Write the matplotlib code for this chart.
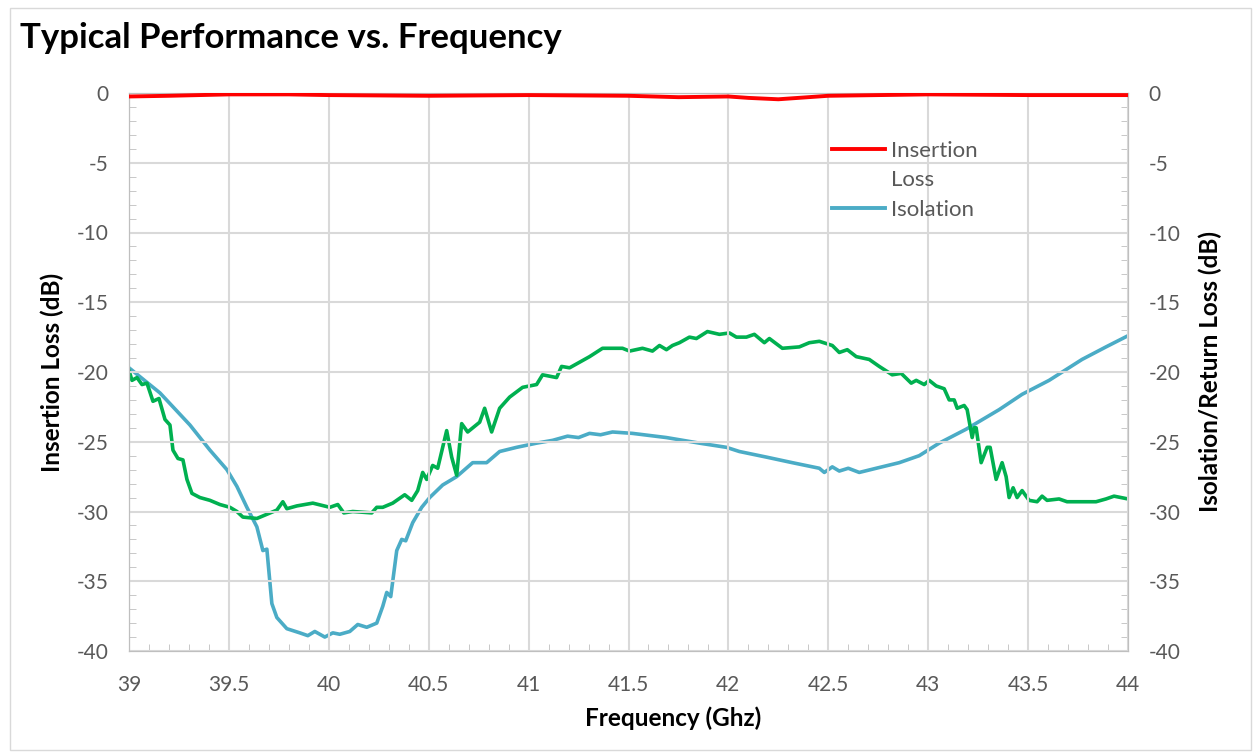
import matplotlib.pyplot as plt
from matplotlib.lines import Line2D
from matplotlib.patches import Rectangle
from matplotlib.ticker import MultipleLocator

# Insertion loss (left axis)
il_freq = [39.0, 39.2, 39.5, 39.8, 40.0, 40.5, 41.0, 41.5, 41.75, 42.0, 42.1, 42.25, 42.35, 42.5, 43.0, 43.5, 44.0]
il_db = [-0.25, -0.2, -0.1, -0.1, -0.15, -0.2, -0.15, -0.2, -0.3, -0.25, -0.35, -0.45, -0.35, -0.2, -0.1, -0.15, -0.15]

# Isolation (right axis)
iso_freq = [39.0, 39.155, 39.305, 39.405, 39.49, 39.54, 39.59, 39.64, 39.67, 39.69, 39.715, 39.74,
            39.79, 39.855, 39.895, 39.93, 39.98, 40.02, 40.055, 40.105, 40.145, 40.19, 40.24, 40.27,
            40.29, 40.31, 40.34, 40.365, 40.385, 40.42, 40.465, 40.505, 40.57, 40.64, 40.72, 40.79,
            40.855, 40.94, 41.04, 41.12, 41.195, 41.25, 41.305, 41.36, 41.42, 41.52, 41.69, 41.855,
            41.99, 42.055, 42.19, 42.32, 42.455, 42.48, 42.52, 42.555, 42.6, 42.655, 42.74, 42.855,
            42.955, 43.055, 43.19, 43.355, 43.47, 43.605, 43.77, 43.89, 44.0]
iso_db = [-19.7, -21.5, -23.8, -25.6, -27.0, -28.2, -29.7, -31.1, -32.8, -32.7, -36.6, -37.6,
          -38.4, -38.7, -38.9, -38.6, -39.0, -38.7, -38.8, -38.6, -38.1, -38.3, -38.0, -36.8,
          -35.8, -36.1, -32.8, -32.0, -32.1, -30.8, -29.7, -29.0, -28.1, -27.5, -26.5, -26.5,
          -25.7, -25.4, -25.1, -24.9, -24.6, -24.7, -24.4, -24.5, -24.3, -24.4, -24.7, -25.1,
          -25.4, -25.7, -26.1, -26.5, -26.9, -27.2, -26.8, -27.1, -26.9, -27.2, -26.9, -26.5,
          -26.0, -25.1, -24.1, -22.7, -21.6, -20.6, -19.1, -18.2, -17.4]

# Return loss (right axis)
rl_freq = [39.0, 39.015, 39.04, 39.065, 39.09, 39.12, 39.15, 39.18, 39.205, 39.22, 39.245, 39.27,
           39.29, 39.315, 39.355, 39.405, 39.455, 39.505, 39.54, 39.57, 39.64, 39.69, 39.74, 39.77,
           39.79, 39.84, 39.92, 40.005, 40.045, 40.075, 40.12, 40.215, 40.24, 40.27, 40.32, 40.38,
           40.415, 40.445, 40.47, 40.49, 40.52, 40.545, 40.59, 40.615, 40.64, 40.665, 40.695, 40.755,
           40.78, 40.815, 40.855, 40.905, 40.97, 41.04, 41.07, 41.14, 41.165, 41.205, 41.255, 41.305,
           41.37, 41.47, 41.505, 41.57, 41.62, 41.655, 41.69, 41.72, 41.755, 41.805, 41.84, 41.895,
           41.955, 42.005, 42.04, 42.09, 42.13, 42.18, 42.205, 42.27, 42.355, 42.405, 42.455, 42.52,
           42.555, 42.595, 42.64, 42.705, 42.755, 42.82, 42.865, 42.915, 42.94, 42.98, 43.005, 43.04,
           43.08, 43.105, 43.13, 43.145, 43.18, 43.195, 43.22, 43.23, 43.24, 43.265, 43.295, 43.31,
           43.34, 43.37, 43.39, 43.405, 43.425, 43.445, 43.47, 43.505, 43.545, 43.57, 43.595, 43.655,
           43.695, 43.77, 43.84, 43.89, 43.93, 44.0]
rl_db = [-19.9, -20.6, -20.4, -20.9, -20.8, -22.1, -21.9, -23.4, -23.8, -25.6, -26.2, -26.3,
         -27.7, -28.7, -29.0, -29.2, -29.5, -29.7, -30.0, -30.4, -30.5, -30.2, -29.9, -29.3,
         -29.8, -29.6, -29.4, -29.7, -29.5, -30.1, -30.0, -30.1, -29.7, -29.7, -29.4, -28.8,
         -29.2, -28.5, -27.2, -27.7, -26.7, -26.9, -24.2, -26.1, -27.4, -23.7, -24.3, -23.6,
         -22.6, -24.3, -22.6, -21.8, -21.1, -20.9, -20.2, -20.4, -19.6, -19.7, -19.3, -18.9,
         -18.3, -18.3, -18.5, -18.3, -18.5, -18.1, -18.4, -18.1, -17.9, -17.5, -17.6, -17.1,
         -17.3, -17.2, -17.5, -17.5, -17.3, -17.9, -17.6, -18.3, -18.2, -17.9, -17.8, -18.1,
         -18.6, -18.4, -18.9, -19.1, -19.6, -20.2, -20.1, -20.8, -20.6, -20.9, -20.6, -21.0,
         -21.2, -22.0, -22.0, -22.6, -22.4, -22.7, -24.7, -24.0, -24.0, -26.5, -25.4, -25.4,
         -27.7, -26.5, -27.5, -29.0, -28.3, -29.0, -28.5, -29.2, -29.3, -28.9, -29.2, -29.1,
         -29.3, -29.3, -29.3, -29.1, -28.9, -29.1]

x_ticks = [39, 39.5, 40, 40.5, 41, 41.5, 42, 42.5, 43, 43.5, 44]
x_labels = ['39', '39.5', '40', '40.5', '41', '41.5', '42', '42.5', '43', '43.5', '44']
y_ticks = [0, -5, -10, -15, -20, -25, -30, -35, -40]

plt.rcParams['font.family'] = ['Lato', 'DejaVu Sans']
plt.rcParams['axes.unicode_minus'] = False
tick_color = '#595959'
grid_color = '#D9D9D9'
spine_color = '#BFBFBF'

fig = plt.figure(figsize=(12.54, 7.53), dpi=100)
fig.patches.append(Rectangle((10 / 1254, 3 / 753), 1241 / 1254, 742 / 753, transform=fig.transFigure,
                             fill=False, edgecolor='#D9D9D9', linewidth=1.0))

ax = fig.add_axes([129 / 1254, 1 - 651 / 753, 999 / 1254, 558 / 753])
ax2 = ax.twinx()

ax.plot(il_freq, il_db, color='#FF0000', linewidth=2.8, zorder=3)
ax2.plot(iso_freq, iso_db, color='#4BACC6', linewidth=2.6)
ax2.plot(rl_freq, rl_db, color='#00B050', linewidth=2.6)

for a in (ax, ax2):
    a.set_xlim(39, 44)
    a.set_ylim(-40, 0)
    a.set_yticks(y_ticks)
    a.yaxis.set_minor_locator(MultipleLocator(1))
    a.tick_params(axis='both', which='major', length=0, labelsize=15, labelcolor=tick_color, pad=15)
    a.tick_params(axis='both', which='minor', direction='in', length=5, color=spine_color)
    for s in a.spines.values():
        s.set_color(spine_color)

ax.set_xticks(x_ticks)
ax.set_xticklabels(x_labels)
ax.xaxis.set_minor_locator(MultipleLocator(0.1))
ax.tick_params(axis='x', pad=17)
ax.grid(True, which='major', color=grid_color, linewidth=1.5)
ax.set_axisbelow(True)
ax.set_zorder(ax2.get_zorder() + 1)
ax.patch.set_visible(False)

ax.set_xlabel('Frequency (Ghz)', fontsize=17.5, fontweight='bold', va='center')
ax.set_ylabel('Insertion Loss (dB)', fontsize=17.5, fontweight='bold', va='center')
ax2.set_ylabel('Isolation/Return Loss (dB)', fontsize=17.5, fontweight='bold', va='center')
ax.xaxis.set_label_coords(673 / 1254, 1 - 718 / 753, transform=fig.transFigure)
ax.yaxis.set_label_coords(52 / 1254, 1 - 372 / 753, transform=fig.transFigure)
ax2.yaxis.set_label_coords(1210 / 1254, 1 - 372 / 753, transform=fig.transFigure)

fig.text(20 / 1254, 1 - 38 / 753, 'Typical Performance vs. Frequency', fontsize=25,
         fontweight='bold', va='center', ha='left')

handles = [Line2D([], [], color='#FF0000', linewidth=2.8),
           Line2D([], [], color='none'),
           Line2D([], [], color='#4BACC6', linewidth=2.8)]
leg = ax.legend(handles, ['Insertion', 'Loss', 'Isolation'], loc='upper left',
                bbox_to_anchor=(812 / 1254, 1 - 121 / 753), bbox_transform=fig.transFigure,
                frameon=False, fontsize=16, handlelength=2.4, handletextpad=0.25, labelspacing=0.42)
for t in leg.get_texts():
    t.set_color(tick_color)

fig.savefig('out.png', dpi=100)
